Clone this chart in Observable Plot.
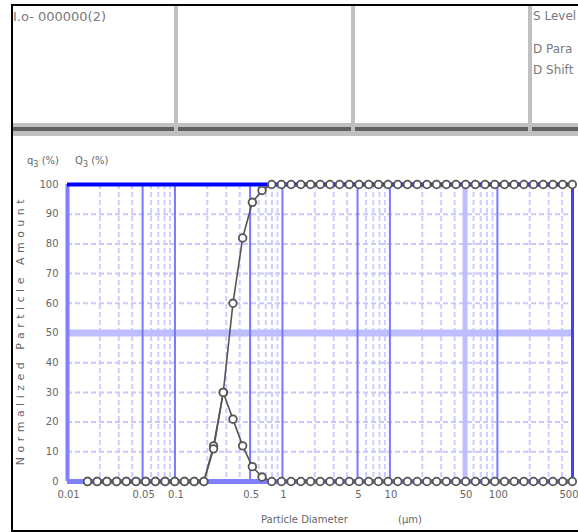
<!DOCTYPE html>
<html><head><meta charset="utf-8">
<script src="https://cdn.jsdelivr.net/npm/d3@7"></script>
<script src="https://cdn.jsdelivr.net/npm/@observablehq/plot@0.6"></script>
<style>
body{margin:0;background:#fff;}
#wrap{position:relative;width:578px;height:532px;overflow:hidden;font-family:"DejaVu Sans",sans-serif;background:#fff;}
.abs{position:absolute;}
.hline{position:absolute;left:11px;right:0;}
.vgray{position:absolute;width:4px;background:#c0c0c0;top:5px;height:131px;}
.htxt{position:absolute;font-size:12px;color:#7a7a7a;white-space:nowrap;}
.lab{position:absolute;font-size:10px;color:#666;white-space:nowrap;}
#chart{position:absolute;left:0;top:140px;}
</style></head><body><div id="wrap">
  <div id="chart"></div>
  <!-- header table -->
  <div class="hline" style="top:123px;height:13px;background:#c0c0c0;"></div>
  <div class="hline" style="top:127px;height:4px;background:#606060;"></div>
  <div class="vgray" style="left:174px;"></div>
  <div class="vgray" style="left:351px;"></div>
  <div class="vgray" style="left:528px;"></div>
  <div class="htxt" style="left:13px;top:9px;font-size:13px;">I.o- 000000(2)</div>
  <div class="htxt" style="left:533px;top:9px;">S Level</div>
  <div class="htxt" style="left:533px;top:42px;">D Para</div>
  <div class="htxt" style="left:533px;top:63px;">D Shift</div>
  <div class="lab" style="left:27px;top:155px;">q<sub style="font-size:8px">3</sub> (%)</div>
  <div class="lab" style="left:75px;top:155px;">Q<sub style="font-size:8px">3</sub> (%)</div>
  <div class="lab" style="left:20px;top:330px;font-size:11px;letter-spacing:4.5px;transform:translate(-50%,-50%) rotate(-90deg);">Normalized Particle Amount</div>
  <div class="lab" style="left:261px;top:514px;">Particle Diameter</div>
  <div class="lab" style="left:398px;top:514px;">(μm)</div>
  <!-- outer frame -->
  <div class="abs" style="left:11px;right:0;top:4px;height:2px;background:#000;"></div>
  <div class="abs" style="left:11px;top:4px;width:2px;height:528px;background:#000;"></div>
  <div class="abs" style="left:11px;right:0;top:530px;height:2px;background:#000;"></div>
</div>
<script>
// particle size channels (µm)
const diameters = [0.01535, 0.01889, 0.02325, 0.02862, 0.03523, 0.04337, 0.05338, 0.06571, 0.08089, 0.09956,
  0.1226, 0.1509, 0.1857, 0.2286, 0.2814, 0.3464, 0.4264, 0.5248, 0.6459, 0.7950,
  0.9786, 1.204, 1.483, 1.825, 2.246, 2.766, 3.404, 4.190, 5.158, 6.349,
  7.815, 9.618, 11.84, 14.57, 17.94, 22.08, 27.18, 33.45, 41.18, 50.70,
  62.40, 76.80, 94.56, 116.4, 143.3, 176.4, 217.1, 267.2, 328.9, 404.9, 498.4];
// frequency q3 (%)
const q3Values = [0,0,0,0,0,0,0,0,0,0, 0,0,0,12,30,21,12,5,1.5,0,
  0,0,0,0,0,0,0,0,0,0, 0,0,0,0,0,0,0,0,0,0, 0,0,0,0,0,0,0,0,0,0,0];
// cumulative Q3 (%)
const Q3Values = [0,0,0,0,0,0,0,0,0,0, 0,0,0,11,30,60,82,94,98,100,
  100,100,100,100,100,100,100,100,100,100, 100,100,100,100,100,100,100,100,100,100,
  100,100,100,100,100,100,100,100,100,100,100];
const yTicks = [0,10,20,30,40,50,60,70,80,90,100];
const yDashed = [10,20,30,40,60,70,80,90];
const yBand = [50];
const xTickValues = [0.01,0.05,0.1,0.5,1,5,10,50,100];
const xTickLabels = ["0.01","0.05","0.1","0.5","1","5","10","50","100"];
const xLastTick = [500];
const xLastLabel = "500";
const xMajorGrid = [0.05,0.1,0.5,1,5,10,100];
const xBand = [50];
const xMinorGrid = [0.02,0.03,0.04,0.06,0.07,0.08,0.09,
  0.2,0.3,0.4,0.6,0.7,0.8,0.9,
  2,3,4,6,7,8,9,
  20,30,40,60,70,80,90,
  200,300,400];

const data = diameters.map((d,i)=>({d, q:q3Values[i], Q:Q3Values[i]}));

const chart = Plot.plot({
  width: 578, height: 392,
  marginTop: 44, marginBottom: 51, marginLeft: 67, marginRight: 6,
  style: {fontFamily: "DejaVu Sans, sans-serif", color: "#666", background: "transparent"},
  x: {type: "log", domain: [0.01, 500], axis: null},
  y: {domain: [0, 100]},
  marks: [
    Plot.ruleX(xMinorGrid, {stroke: "#cdcdff", strokeWidth: 2, strokeDasharray: "5,3"}),
    Plot.ruleY(yDashed, {stroke: "#c8c8ff", strokeWidth: 2, strokeDasharray: "5,3"}),
    Plot.ruleY(yBand, {stroke: "#bdbdff", strokeWidth: 7}),
    Plot.ruleX(xBand, {stroke: "#bdbdff", strokeWidth: 5}),
    Plot.ruleX(xMajorGrid, {stroke: "#7878ff", strokeWidth: 2}),
    Plot.ruleX([0.01], {stroke: "#8080ff", strokeWidth: 4}),
    Plot.ruleX([500], {stroke: "#4040ff", strokeWidth: 3}),
    Plot.ruleY([0], {stroke: "#8080ff", strokeWidth: 5}),
    Plot.ruleY([100], {stroke: "#0000ff", strokeWidth: 4}),
    Plot.line(data, {x: "d", y: "q", stroke: "#555", strokeWidth: 1.6}),
    Plot.line(data, {x: "d", y: "Q", stroke: "#555", strokeWidth: 1.6}),
    Plot.dot(data, {x: "d", y: "q", r: 3.8, stroke: "#555", strokeWidth: 1.8, fill: "white"}),
    Plot.dot(data, {x: "d", y: "Q", r: 3.8, stroke: "#555", strokeWidth: 1.8, fill: "white"}),
    Plot.axisY(yTicks, {tickSize: 0, tickPadding: 9, fontSize: 10, label: null}),
    Plot.text(xTickValues, {x: d => d, frameAnchor: "bottom", dy: 16, dx: 1,
      fontSize: 10, text: (d, i) => xTickLabels[i], fill: "#666"}),
    Plot.text(xLastTick, {x: d => d, frameAnchor: "bottom", dy: 16, dx: 6, textAnchor: "end",
      fontSize: 10, text: () => xLastLabel, fill: "#666"})
  ]
});
document.getElementById("chart").appendChild(chart);
</script>
</body></html>
